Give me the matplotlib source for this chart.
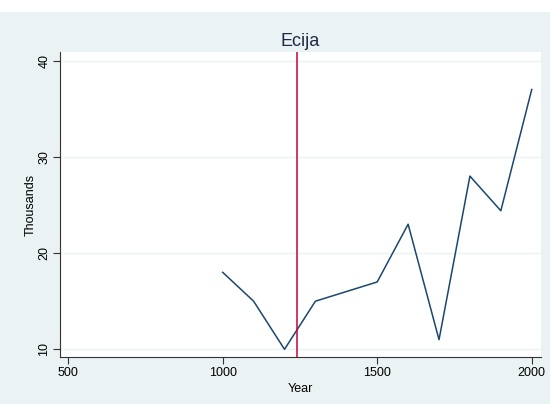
import matplotlib
matplotlib.use("Agg")
import matplotlib.pyplot as plt
from matplotlib.patches import Rectangle

# population of Ecija (thousands)
years = [1000, 1100, 1200, 1300, 1500, 1600, 1700, 1800, 1900, 2000]
thousands = [18, 15, 10, 15, 17, 23, 11, 28, 24.4, 37]
marker_year = 1240

xticks = [500, 1000, 1500, 2000]
yticks = [10, 20, 30, 40]

bg = "#eaf2f3"
navy = "#1a476f"

plt.rcParams["font.family"] = ["Liberation Sans", "DejaVu Sans"]

fig = plt.figure(figsize=(5.5, 4.04), dpi=100, facecolor=bg)
# white strip on top
fig.patches.append(Rectangle((0, 1 - 12 / 404), 1, 12 / 404, transform=fig.transFigure,
                             facecolor="white", edgecolor="none", zorder=0))
ax = fig.add_axes([60 / 550, 1 - 357 / 404, 481 / 550, 305 / 404])
ax.set_facecolor("white")

ax.plot(years, thousands, color=navy, linewidth=1.1)
ax.axvline(marker_year, color="#c10534", linewidth=1.1)

ax.set_xlim(473.5, 2030)
ax.set_ylim(9.2, 40.9)
ax.set_xticks(xticks)
ax.set_yticks(yticks)
ax.set_yticklabels([str(t) for t in yticks], rotation=90, va="center")
ax.grid(axis="y", color=bg, linewidth=1.0)
ax.set_axisbelow(True)

for s in ["top", "right"]:
    ax.spines[s].set_visible(False)
for s in ["left", "bottom"]:
    ax.spines[s].set_color("#333333")
    ax.spines[s].set_linewidth(0.8)
ax.tick_params(direction="out", length=5, width=0.8, color="#333333",
               labelsize=9, labelcolor="black", pad=2)

ax.set_xlabel("Year", fontsize=9, labelpad=3)
ax.set_ylabel("Thousands", fontsize=9, labelpad=1)
ax.set_title("Ecija", fontsize=13, color="#1e2a4a", pad=4)

fig.savefig("out.png", dpi=100, facecolor=bg)
